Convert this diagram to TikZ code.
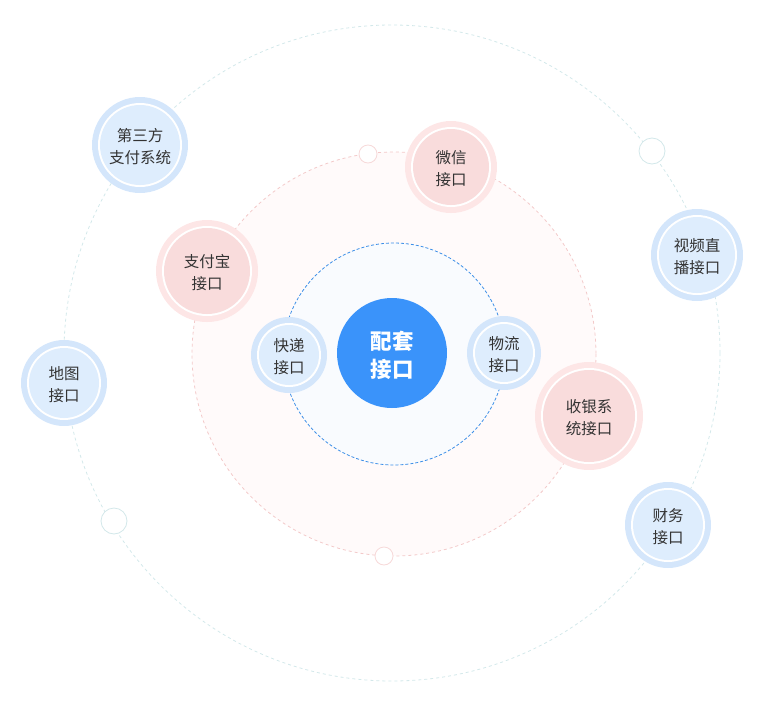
\documentclass[tikz,border=0pt]{standalone}
\usepackage{fontspec}
\setmainfont{Noto Sans CJK SC}
\newfontfamily\cjk{Noto Sans CJK SC}
\definecolor{outerline}{HTML}{D3E8EA}
\definecolor{pinkline}{HTML}{F3C9C9}
\definecolor{pinkfill}{HTML}{FFFAFA}
\definecolor{blueline}{HTML}{3D8FE8}
\definecolor{bluefill}{HTML}{F9FBFE}
\definecolor{hub}{HTML}{3A93FA}
\definecolor{bring}{HTML}{D4E6FB}
\definecolor{binner}{HTML}{DEEDFD}
\definecolor{pring}{HTML}{FDE6E6}
\definecolor{pinner}{HTML}{F9DCDC}
\definecolor{txt}{HTML}{333333}
\tikzset{
  lbl/.style={align=center, text=txt, font=\cjk\fontsize{15.5}{22}\selectfont, inner sep=0pt, yshift=-2pt},
  smallc/.style={draw=outerline, fill=white, line width=0.8pt},
}
\newcommand{\ringnode}[6]{%
  \fill[#4] (#2) circle (#3);
  \fill[white] (#2) circle (#3-6);
  \fill[#5] (#2) circle (#3-8);
  \node[lbl] (#1) at (#2) {#6};
}
\begin{document}
\begin{tikzpicture}[x=1pt,y=-1pt]
\useasboundingbox (0,0) rectangle (779,707);
% outer orbit
\draw[outerline, line width=0.8pt, dash pattern=on 3pt off 3pt] (392,353) circle (328);
% middle orbit
\draw[pinkline, fill=pinkfill, line width=0.8pt, dash pattern=on 3pt off 3pt] (394,354) circle (202);
% inner orbit
\draw[blueline, fill=bluefill, line width=0.8pt, dash pattern=on 3pt off 2pt] (394,354) circle (111);
% small markers
\draw[smallc] (652,151) circle (13);
\draw[smallc] (114,521) circle (13);
\draw[smallc, draw=pinkline!70] (368,154) circle (9);
\draw[smallc, draw=pinkline!70] (384,556) circle (9);
% hub
\fill[hub] (392,353) circle (55);
\node[align=center, text=white, font=\cjk\bfseries\fontsize{21.5}{28}\selectfont, inner sep=0pt, yshift=-1pt] (hubn) at (392,354) {配套\\接口};
% nodes
\ringnode{a}{140,145}{48}{bring}{binner}{第三方\\支付系统}
\ringnode{b}{697,255}{46}{bring}{binner}{视频直\\播接口}
\ringnode{c}{64,383}{43}{bring}{binner}{地图\\接口}
\ringnode{d}{668,525}{43}{bring}{binner}{财务\\接口}
\ringnode{e}{451,167}{46}{pring}{pinner}{微信\\接口}
\ringnode{f}{207,271}{51}{pring}{pinner}{支付宝\\接口}
\ringnode{g}{589,416}{54}{pring}{pinner}{收银系\\统接口}
\ringnode{h}{289,355}{38}{bring}{binner}{快递\\接口}
\ringnode{i}{504,353}{37}{bring}{binner}{物流\\接口}
\end{tikzpicture}
\end{document}
